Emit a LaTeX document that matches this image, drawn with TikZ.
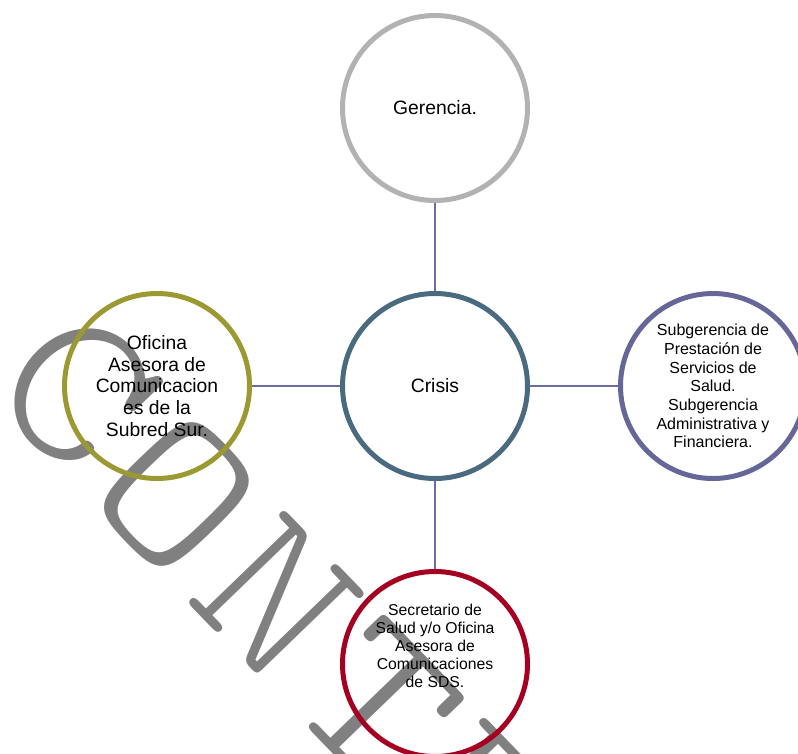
\documentclass[tikz,border=0pt]{standalone}
\usepackage{fontspec}
\setmainfont{Liberation Sans}
\usetikzlibrary{positioning}
\definecolor{ringgray}{RGB}{178,178,178}
\definecolor{ringslate}{RGB}{74,106,128}
\definecolor{ringolive}{RGB}{155,153,50}
\definecolor{ringviolet}{RGB}{102,102,153}
\definecolor{ringred}{RGB}{165,0,33}
\definecolor{linkviolet}{RGB}{108,108,160}
\definecolor{stampgray}{RGB}{128,128,128}

\begin{document}
\begin{tikzpicture}[
    x=0.75pt, y=-0.75pt,
    node distance=66pt,
    every node/.style={font=\fontsize{14.5}{16.3}\selectfont},
    ring/.style={circle, draw=#1, line width=3.75pt, minimum size=138.75pt, inner sep=0pt, align=center},
    small/.style={font=\fontsize{12}{14}\selectfont},
    link/.style={draw=linkviolet, line width=1.3pt},
    stamp/.style={text=stampgray, font=\fontsize{165}{165}\ttfamily\fontseries{l}\selectfont, rotate=-46, inner sep=0pt}
  ]
  \useasboundingbox (0,0) rectangle (798,753);
  \clip (0,0) rectangle (798,753);
  % watermark, behind everything
  \foreach \ch [count=\i from 0] in {C,O,N,T,R}
    \node[stamp] (wm\i) at ({77+100*\i},{391+104*\i}) {\scalebox{1.15}[1]{\ch}};
  % hub and spokes
  \node[ring=ringslate] (crisis) at (435,386) {Crisis};
  \node[ring=ringgray, above=of crisis] (gerencia) {Gerencia.};
  \node[ring=ringolive, left=of crisis] (oficina) {Oficina\\Asesora de\\Comunicacion\\es de la\\Subred Sur.};
  \node[ring=ringviolet, right=of crisis, small] (subger) {Subgerencia de\\Prestación de\\Servicios de\\Salud.\\Subgerencia\\Administrativa y\\Financiera.};
  \node[ring=ringred, below=of crisis] (sds) {};
  \node[align=center, font=\fontsize{11.8}{13.5}\selectfont] (sdstext) at ([yshift=13.5pt]sds.center) {Secretario de\\Salud y/o Oficina\\Asesora de\\Comunicaciones\\de SDS.};
  \draw[link] (gerencia) -- (crisis);
  \draw[link] (oficina) -- (crisis);
  \draw[link] (crisis) -- (subger);
  \draw[link] (crisis) -- (sds);
\end{tikzpicture}
\end{document}
